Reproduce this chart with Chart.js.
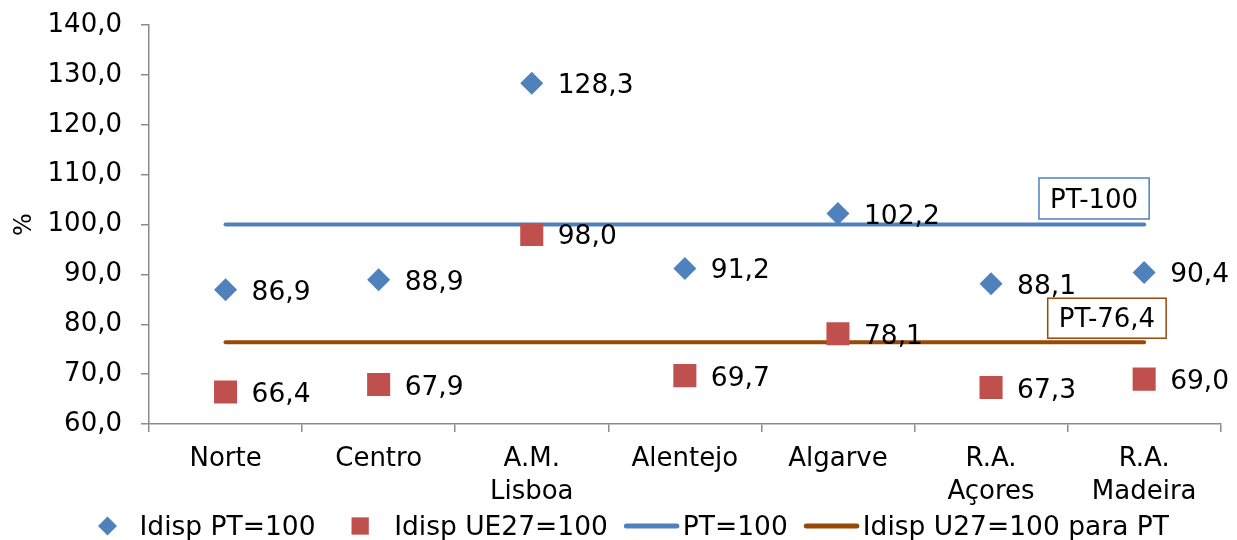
<!DOCTYPE html>
<html>
<head>
<meta charset="utf-8">
<title>Idisp por região</title>
<script src="https://cdn.jsdelivr.net/npm/chart.js@4.4.1/dist/chart.umd.min.js"></script>
<style>
  html, body { margin: 0; padding: 0; background: #fff; }
  #wrap { width: 1237px; height: 540px; position: relative; }
</style>
</head>
<body>
<div id="wrap"><canvas id="chart"></canvas></div>
<script>
// data
const categories = ['Norte', 'Centro', ['A.M.', 'Lisboa'], 'Alentejo', 'Algarve', ['R.A.', 'Açores'], ['R.A.', 'Madeira']];
const idispPT = [86.9, 88.9, 128.3, 91.2, 102.2, 88.1, 90.4];
const idispUE27 = [66.4, 67.9, 98.0, 69.7, 78.1, 67.3, 69.0];
const ptLine = [100, 100, 100, 100, 100, 100, 100];
const ue27ForPT = [76.4, 76.4, 76.4, 76.4, 76.4, 76.4, 76.4];
const seriesNames = ['Idisp PT=100', 'Idisp UE27=100', 'PT=100', 'Idisp U27=100 para PT'];
const yMin = 60, yMax = 140, yStep = 10;
const boxLabels = ['PT-100', 'PT-76,4'];

const FONT = '"DejaVu Sans", Verdana, sans-serif';
const BLUE = '#4F81BD', RED = '#C0504D', BROWN = '#984807', AXIS = '#8C8C8C';

function fmt(v) { return v.toFixed(1).replace('.', ','); }

// numbers next to the markers
const valueLabels = {
  id: 'valueLabels',
  afterDatasetsDraw(chart) {
    const ctx = chart.ctx;
    ctx.save();
    ctx.font = '26.5px ' + FONT;
    ctx.fillStyle = '#000';
    ctx.textAlign = 'left';
    ctx.textBaseline = 'alphabetic';
    chart.data.datasets.forEach((ds, i) => {
      if (!ds.showValues) return;
      chart.getDatasetMeta(i).data.forEach((pt, j) => {
        ctx.fillText(fmt(ds.data[j]), pt.x + 26, pt.y + 10);
      });
    });
    ctx.restore();
  }
};

// the two framed labels at the right end of the reference lines
const lineBoxes = {
  id: 'lineBoxes',
  afterDatasetsDraw(chart) {
    const ctx = chart.ctx;
    const xs = chart.scales.x, ys = chart.scales.y;
    const xLast = xs.getPixelForValue(categories.length - 1);
    const specs = [
      { text: boxLabels[0], value: ptLine[ptLine.length - 1], color: BLUE, dx: 5, dy: -5.5, h: 41 },
      { text: boxLabels[1], value: ue27ForPT[ue27ForPT.length - 1], color: BROWN, dx: 22, dy: -4, h: 40 }
    ];
    ctx.save();
    ctx.font = '26px ' + FONT;
    specs.forEach(s => {
      const w = ctx.measureText(s.text).width + 22;
      const right = xLast + s.dx;
      const bottom = ys.getPixelForValue(s.value) + s.dy;
      const left = right - w, top = bottom - s.h;
      ctx.fillStyle = '#fff';
      ctx.fillRect(left, top, w, s.h);
      ctx.strokeStyle = s.color;
      ctx.lineWidth = 1.5;
      ctx.strokeRect(left, top, w, s.h);
      ctx.fillStyle = '#000';
      ctx.textAlign = 'center';
      ctx.textBaseline = 'alphabetic';
      ctx.fillText(s.text, left + w / 2, bottom - 11);
    });
    ctx.restore();
  }
};

// legend row under the axis, drawn like the original one
const legendRow = {
  id: 'legendRow',
  afterDraw(chart) {
    const ctx = chart.ctx;
    const base = 535, mid = 526;
    let x = 98;
    ctx.save();
    ctx.font = '26.5px ' + FONT;
    ctx.textBaseline = 'alphabetic';
    ctx.textAlign = 'left';
    const items = chart.data.datasets;
    items.forEach((ds, i) => {
      let tx;
      if (ds.legendMark === 'diamond') {
        const c = x + 9.5, r = 9.5;
        ctx.fillStyle = ds.backgroundColor;
        ctx.beginPath();
        ctx.moveTo(c - r, mid); ctx.lineTo(c, mid - r); ctx.lineTo(c + r, mid); ctx.lineTo(c, mid + r);
        ctx.closePath(); ctx.fill();
        tx = c + 32;
      } else if (ds.legendMark === 'square') {
        const s = 17.3, c = x + s / 2;
        ctx.fillStyle = ds.backgroundColor;
        ctx.fillRect(x, mid - s / 2, s, s);
        tx = c + 34;
      } else {
        ctx.strokeStyle = ds.borderColor;
        ctx.lineWidth = 5;
        ctx.lineCap = 'round';
        ctx.beginPath();
        ctx.moveTo(x + 2.5, mid); ctx.lineTo(x + 53, mid);
        ctx.stroke();
        tx = x + 59;
      }
      ctx.fillStyle = '#000';
      ctx.fillText(ds.label, tx, base);
      const end = tx + ctx.measureText(ds.label).width;
      const next = items[i + 1];
      x = end + (next && next.legendMark === 'line' ? 16 : 36);
    });
    ctx.restore();
  }
};

new Chart(document.getElementById('chart'), {
  type: 'line',
  data: {
    labels: categories,
    datasets: [
      {
        label: seriesNames[0], data: idispPT, showLine: false, showValues: true, legendMark: 'diamond',
        pointStyle: 'rectRot', pointRadius: 11.5, pointHoverRadius: 11.5, pointBorderWidth: 0,
        backgroundColor: BLUE, borderColor: BLUE, order: 0
      },
      {
        label: seriesNames[1], data: idispUE27, showLine: false, showValues: true, legendMark: 'square',
        pointStyle: 'rect', pointRadius: 16.3, pointHoverRadius: 16.3, pointBorderWidth: 0,
        backgroundColor: RED, borderColor: RED, order: 0
      },
      {
        label: seriesNames[2], data: ptLine, legendMark: 'line',
        borderColor: BLUE, backgroundColor: BLUE, borderWidth: 4, borderCapStyle: 'round',
        pointRadius: 0, pointHoverRadius: 0, order: 1
      },
      {
        label: seriesNames[3], data: ue27ForPT, legendMark: 'line',
        borderColor: BROWN, backgroundColor: BROWN, borderWidth: 4, borderCapStyle: 'round',
        pointRadius: 0, pointHoverRadius: 0, order: 1
      }
    ]
  },
  options: {
    responsive: true,
    maintainAspectRatio: false,
    animation: false,
    layout: { padding: { top: 25, right: 13, bottom: 0, left: 0 } },
    plugins: {
      legend: { display: false },
      tooltip: { enabled: false }
    },
    scales: {
      x: {
        offset: true,
        grid: { offset: true, drawOnChartArea: false, color: AXIS, lineWidth: 1.5, tickLength: 8 },
        border: { color: AXIS, width: 1.5 },
        ticks: { color: '#000', padding: 10, maxRotation: 0, autoSkip: false, font: { family: FONT, size: 26, lineHeight: 1.3 } },
        afterFit(scale) {
          scale.height = 116;
          scale.paddingLeft = 0;
          scale.paddingRight = 0;
          if (scale._margins) { scale._margins.left = 0; scale._margins.right = 0; }
        }
      },
      y: {
        min: yMin, max: yMax,
        grid: { drawOnChartArea: false, color: AXIS, lineWidth: 1.5, tickLength: 8 },
        border: { color: AXIS, width: 1.5 },
        ticks: { stepSize: yStep, color: '#000', padding: 19, font: { family: FONT, size: 26 }, callback: v => fmt(v) },
        title: { display: true, text: '%', color: '#000', font: { family: FONT, size: 24 }, padding: { top: 10, bottom: 0 } },
        afterFit(scale) {
          scale.width = 149;
          scale.paddingTop = 0;
          scale.paddingBottom = 0;
          if (scale._margins) { scale._margins.top = 0; scale._margins.bottom = 0; }
        }
      }
    }
  },
  plugins: [valueLabels, lineBoxes, legendRow]
});
</script>
</body>
</html>
